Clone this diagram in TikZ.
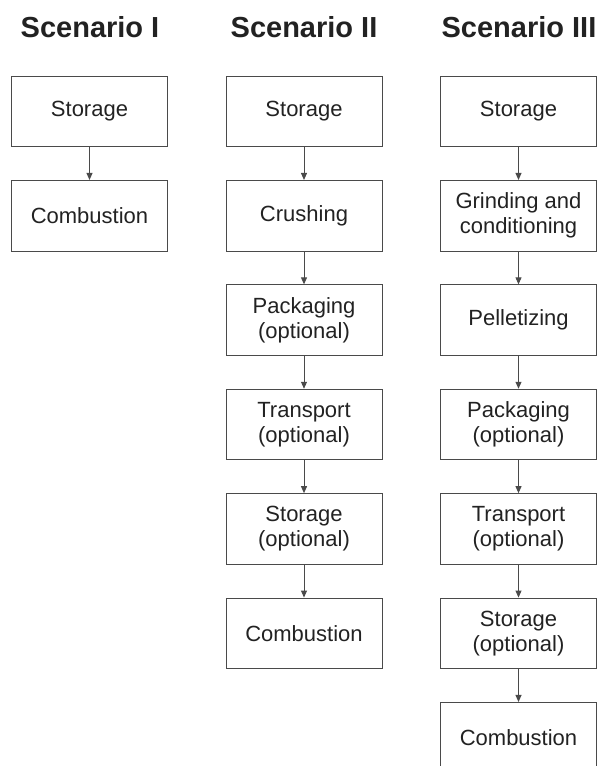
\documentclass[tikz,border=0pt]{standalone}
\usepackage{fontspec}
\setmainfont{Liberation Sans}
\usetikzlibrary{arrows.meta}
\definecolor{linec}{HTML}{4A4A4A}
\definecolor{textc}{HTML}{222222}
\begin{document}
\begin{tikzpicture}[x=1pt,y=-1pt,
  stepbox/.style={draw=linec, line width=0.9pt, minimum width=156pt, minimum height=70.7pt,
    inner sep=0pt, align=center, text=textc, font=\fontsize{22}{25}\selectfont},
  titletext/.style={anchor=base, text=textc, inner sep=0pt, font=\fontsize{29}{32}\selectfont\bfseries},
  flow/.style={draw=linec, line width=0.9pt, -{Triangle[length=7pt,width=6pt]}}]
\useasboundingbox (0,0) rectangle (599,766);
% titles
\node[titletext] (t1) at (90,37) {Scenario I};
\node[titletext] (t2) at (304,37) {Scenario II};
\node[titletext] (t3) at (519,37) {Scenario III};
% Scenario I
\node[stepbox] (a1) at (89.5,111.35) {Storage};
\node[stepbox] (a2) at (89.5,215.75) {Combustion};
% Scenario II
\node[stepbox] (b1) at (304,111.35) {Storage};
\node[stepbox] (b2) at (304,215.75) {Crushing};
\node[stepbox] (b3) at (304,320.15) {Packaging\\(optional)};
\node[stepbox] (b4) at (304,424.55) {Transport\\(optional)};
\node[stepbox] (b5) at (304,528.95) {Storage\\(optional)};
\node[stepbox] (b6) at (304,633.35) {Combustion};
% Scenario III
\node[stepbox] (c1) at (518.5,111.35) {Storage};
\node[stepbox] (c2) at (518.5,215.75) {Grinding and\\conditioning};
\node[stepbox] (c3) at (518.5,320.15) {Pelletizing};
\node[stepbox] (c4) at (518.5,424.55) {Packaging\\(optional)};
\node[stepbox] (c5) at (518.5,528.95) {Transport\\(optional)};
\node[stepbox] (c6) at (518.5,633.35) {Storage\\(optional)};
\node[stepbox] (c7) at (518.5,737.75) {Combustion};
% connectors
\draw[flow] (a1) -- (a2);
\draw[flow] (b1) -- (b2);
\draw[flow] (b2) -- (b3);
\draw[flow] (b3) -- (b4);
\draw[flow] (b4) -- (b5);
\draw[flow] (b5) -- (b6);
\draw[flow] (c1) -- (c2);
\draw[flow] (c2) -- (c3);
\draw[flow] (c3) -- (c4);
\draw[flow] (c4) -- (c5);
\draw[flow] (c5) -- (c6);
\draw[flow] (c6) -- (c7);
\end{tikzpicture}
\end{document}
